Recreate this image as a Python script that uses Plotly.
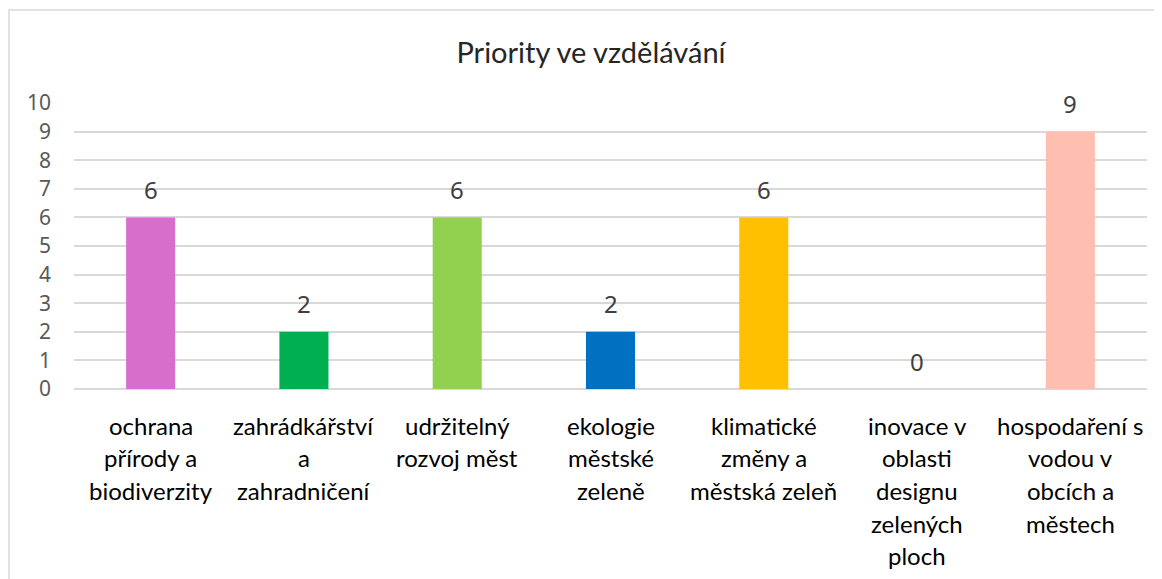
import plotly.graph_objects as go

title = "Priority ve vzdělávání"
categories = [
    "ochrana přírody a biodiverzity",
    "zahrádkářství a zahradničení",
    "udržitelný rozvoj měst",
    "ekologie městské zeleně",
    "klimatické změny a městská zeleň",
    "inovace v oblasti designu zelených ploch",
    "hospodaření s vodou v obcích a městech",
]
label_lines = [
    ["ochrana", "přírody a", "biodiverzity"],
    ["zahrádkářství", "a", "zahradničení"],
    ["udržitelný", "rozvoj měst"],
    ["ekologie", "městské", "zeleně"],
    ["klimatické", "změny a", "městská zeleň"],
    ["inovace v", "oblasti", "designu", "zelených", "ploch"],
    ["hospodaření s", "vodou v", "obcích a", "městech"],
]
values = [6, 2, 6, 2, 6, 0, 9]
colors = ["#D86ECC", "#00B050", "#92D050", "#0070C0", "#FFC000", "#A5A5A5", "#FFBFB0"]
y_ticks = list(range(0, 11))

fig = go.Figure()
fig.add_trace(go.Bar(
    x=categories, y=values, marker=dict(color=colors, line=dict(width=0)),
    width=0.32, hoverinfo="x+y",
))

annotations = []
for c, v in zip(categories, values):
    annotations.append(dict(
        x=c, y=v, xref="x", yref="y", text=str(v), showarrow=False,
        yanchor="middle", yshift=28,
        font=dict(family="Noto Sans", size=24, color="#404040"),
    ))
for c, lines in zip(categories, label_lines):
    for i, line in enumerate(lines):
        annotations.append(dict(
            x=c, y=0, xref="x", yref="y", text=line, showarrow=False,
            yanchor="middle", yshift=-(36 + 32.7 * i),
            font=dict(family="Lato", size=24, color="#000000"),
        ))

# page body has an 8px margin; compensate so the figure fills the 1162x579 window
OFF = 8
W, H = 1162 - OFF, 579 - OFF
ml, mr, mt, mb = 74 - OFF, 15, 103 - OFF, 190
pw, ph = W - ml - mr, H - mt - mb
bx0 = (9 - OFF - ml) / pw
by1 = 1 + (mt - (10 - OFF)) / ph

fig.update_layout(
    width=W, height=H,
    margin=dict(l=ml, r=mr, t=mt, b=mb, pad=0),
    paper_bgcolor="white", plot_bgcolor="white",
    showlegend=False,
    title=dict(text=title, x=(591 - OFF) / W, xref="container", xanchor="center",
               y=1 - (53 - OFF) / H, yref="container", yanchor="middle",
               font=dict(family="Lato", size=29, color="#262626")),
    annotations=annotations,
    shapes=[dict(type="rect", xref="paper", yref="paper", x0=bx0, x1=1.2, y0=-1.0, y1=by1,
                 line=dict(color="#D9D9D9", width=1.5), fillcolor="rgba(0,0,0,0)", layer="below")],
)
fig.update_xaxes(showticklabels=False, showgrid=False, showline=False, zeroline=False, ticks="")
fig.update_yaxes(range=[0, 10], tickvals=y_ticks, showgrid=True, gridcolor="#D9D9D9", gridwidth=1.5,
                 zeroline=True, zerolinecolor="#D9D9D9", zerolinewidth=1.5, showline=False, ticks="",
                 ticklabelstandoff=22,
                 tickfont=dict(family="Noto Sans", size=21, color="#595959"))

fig.write_html("out.html")
